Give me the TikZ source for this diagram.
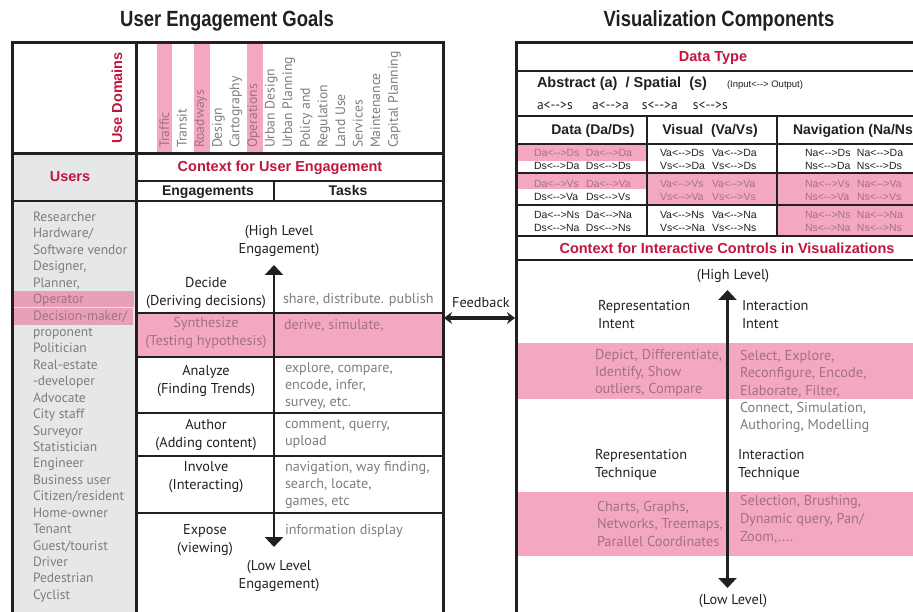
\documentclass[tikz,border=0pt]{standalone}
\usepackage{fontspec}
\setmainfont{PT Sans}
\newfontfamily\headfont{Liberation Sans}
\newfontfamily\titlefont[FakeStretch=0.84]{Liberation Sans}
\usetikzlibrary{arrows.meta}

\definecolor{accent}{RGB}{192,22,62}
\definecolor{softgray}{RGB}{125,125,128}
\definecolor{panelgray}{RGB}{230,231,232}
\definecolor{hilite}{RGB}{244,168,192}
\definecolor{hilitegray}{RGB}{232,160,184}
\definecolor{mauve}{RGB}{163,112,134}
\definecolor{ink}{RGB}{35,31,32}

% two-way mapping arrow, hyphens kept apart
\newcommand\lr{<\mbox{-}\mbox{-}>}
\newcommand\pair[2]{\makebox[52pt][l]{#1}#2}

\begin{document}
% multi-line nodes are anchored at the baseline of their last line
\begin{tikzpicture}[x=1pt,y=-1pt,
  every node/.style={inner sep=0pt, outer sep=0pt},
  frame/.style={line width=3pt, draw=ink},
  rule/.style={line width=2pt, draw=ink},
  band/.style={fill=hilite, draw=none},
  levelarrow/.style={line width=2.5pt, draw=ink, {Triangle[width=18pt,length=10pt]}-{Triangle[width=18pt,length=10pt]}},
  title/.style={font=\titlefont\bfseries\fontsize{22}{24}\selectfont, text=ink, anchor=base},
  redhead/.style={font=\headfont\bfseries\fontsize{14.5}{17}\selectfont, text=accent, anchor=base},
  colhead/.style={font=\headfont\bfseries\fontsize{14}{17}\selectfont, text=ink, anchor=base},
  body/.style={font=\fontsize{14.3}{18}\selectfont, text=ink, anchor=base, align=center},
  bodyleft/.style={font=\fontsize{14.3}{18}\selectfont, text=ink, anchor=base west, align=left},
  task/.style={font=\fontsize{14.2}{17}\selectfont, text=softgray, anchor=base west, align=left},
  domainlabel/.style={font=\fontsize{13.7}{15}\selectfont, text=softgray, rotate=90, anchor=base west},
  cell/.style={font=\headfont\fontsize{10.5}{13}\selectfont, text=ink, anchor=base west, align=left},
]
\useasboundingbox (0,0) rectangle (913,612);
\clip (0,0) rectangle (913,612);

% ---------------- titles ----------------
\node[title] (goalsTitle) at (227,27) {User Engagement Goals};
\node[title] (vizTitle) at (719,27) {Visualization Components};

% ---------------- left panel: fills ----------------
\fill[panelgray] (12,154) rectangle (136,640);
\fill[band] (157,44) rectangle (172,153);
\fill[band] (194,44) rectangle (210,153);
\fill[band] (247,44) rectangle (263,153);
\fill[hilitegray] (14,291) rectangle (134,307);
\fill[hilitegray] (12,308) rectangle (133,325);
\fill[band] (137,314) rectangle (442,357);

% ---------------- left panel: rules ----------------
\draw[frame] (12,43) rectangle (443,640);
\draw[frame] (136,43) -- (136,640);
\draw[frame] (12,154) -- (443,154);
\draw[rule] (12,201) -- (443,201);
\draw[rule] (136,181) -- (443,181);
\draw[rule] (274,181) -- (274,201);
\draw[rule] (136,313) -- (443,313);
\draw[rule] (136,357) -- (443,357);
\draw[rule] (136,413) -- (443,413);
\draw[rule] (136,456) -- (443,456);
\draw[rule] (136,513) -- (443,513);

\coordinate (engTop) at (274,265);
\coordinate (engBottom) at (274,547);
\draw[levelarrow] (engTop) -- (engBottom);

% ---------------- use domains ----------------
\node[font=\headfont\bfseries\fontsize{14.5}{17}\selectfont, text=accent, rotate=90] (useDomains) at (117,98) {Use Domains};
\node[domainlabel, text=mauve] (dTraffic) at (169,148) {Traffic};
\node[domainlabel] (dTransit) at (186.6,148) {Transit};
\node[domainlabel, text=mauve] (dRoadways) at (204.2,148) {Roadways};
\node[domainlabel] (dDesign) at (221.8,148) {Design};
\node[domainlabel] (dCarto) at (239.4,148) {Cartography};
\node[domainlabel, text=mauve] (dOps) at (257,148) {Operations};
\node[domainlabel] (dUrbanDesign) at (274.6,148) {Urban Design};
\node[domainlabel] (dUrbanPlan) at (292.2,148) {Urban Planning};
\node[domainlabel] (dPolicy) at (309.8,148) {Policy and};
\node[domainlabel] (dRegulation) at (327.4,148) {Regulation};
\node[domainlabel] (dLandUse) at (345,148) {Land Use};
\node[domainlabel] (dServices) at (362.6,148) {Services};
\node[domainlabel] (dMaint) at (380.2,148) {Maintenance};
\node[domainlabel] (dCapital) at (397.8,148) {Capital Planning};

% ---------------- users ----------------
\node[redhead] (usersHead) at (70,182) {Users};
\node[font=\fontsize{13.5}{16.43}\selectfont, text=softgray, anchor=base west, align=left] (userList) at (33,599.4)
  {Researcher\\Hardware/\\Software vendor\\Designer,\\Planner,\\{\color{mauve}Operator}\\{\color{mauve}Decision-maker/}\\proponent\\Politician\\Real-estate\\-developer\\Advocate\\City staff\\Surveyor\\Statistician\\Engineer\\Business user\\Citizen/resident\\Home-owner\\Tenant\\Guest/tourist\\Driver\\Pedestrian\\Cyclist};

% ---------------- engagements ----------------
\node[redhead] (ctxUser) at (280,172) {Context for User Engagement};
\node[colhead] (engHead) at (208,196) {Engagements};
\node[colhead] (taskHead) at (348,196) {Tasks};

\node[body] (highEng) at (279,253.5) {(High Level\\Engagement)};
\node[body] (decide) at (206,305.5) {Decide\\(Deriving decisions)};
\node[body, text=mauve] (synth) at (206,345.5) {Synthesize\\(Testing hypothesis)};
\node[body] (analyze) at (206,393.5) {Analyze\\(Finding Trends)};
\node[body] (author) at (206,447.5) {Author\\(Adding content)};
\node[body] (involve) at (206,489.5) {Involve\\(Interacting)};
\node[body] (expose) at (205,552.5) {Expose\\(viewing)};
\node[body] (lowEng) at (279,588.5) {(Low Level\\Engagement)};

\node[task] (tDecide) at (283,303.5) {share, distribute. publish};
\node[task, text=mauve] (tSynth) at (284,329.5) {derive, simulate,};
\node[task] (tAnalyze) at (285,406.5) {explore, compare,\\encode, infer,\\survey, etc.};
\node[task] (tAuthor) at (285,445.5) {comment, querry,\\upload};
\node[task] (tInvolve) at (285,505.5) {navigation, way finding,\\search, locate,\\games, etc};
\node[task] (tExpose) at (285,534.5) {information display};

% ---------------- feedback ----------------
\node[font=\fontsize{14.3}{16}\selectfont, text=ink, anchor=base] (feedback) at (481,307.5) {Feedback};
\coordinate (fbLeft) at (444,318);
\coordinate (fbRight) at (515,318);
\draw[line width=3.5pt, draw=ink, {Stealth[length=8pt,width=12pt]}-{Stealth[length=8pt,width=12pt]}] (fbLeft) -- (fbRight);

% ---------------- right panel: fills ----------------
\fill[band] (517,145) rectangle (647,161);
\fill[band] (517,174) rectangle (647,189);
\fill[band] (648,174) rectangle (777,204);
\fill[band] (778,174) rectangle (930,204);
\fill[band] (778,206) rectangle (930,235);
\fill[band] (517,343) rectangle (930,399);
\fill[band] (517,492) rectangle (930,556);

% ---------------- right panel: rules ----------------
\draw[frame] (516,43) rectangle (940,640);
\draw[rule] (516,71) -- (940,71);
\draw[rule] (516,116) -- (940,116);
\draw[rule] (516,144) -- (940,144);
\draw[rule] (516,173) -- (940,173);
\draw[rule] (516,205) -- (940,205);
\draw[rule] (516,236) -- (940,236);
\draw[rule] (516,260) -- (940,260);
\draw[rule] (647,116) -- (647,236);
\draw[rule] (777,116) -- (777,236);

% ---------------- data type table ----------------
\node[redhead] (dataType) at (713,62) {Data Type};
\node[colhead, anchor=base west, font=\headfont\bfseries\fontsize{14.5}{17}\selectfont] (abstract) at (537,88) {Abstract (a)\ \ / Spatial\ \ (s)};
\node[font=\headfont\fontsize{9.5}{11}\selectfont, text=ink, anchor=base west] (inout) at (727,87.5) {(Input\lr{} Output)};
\node[font=\fontsize{13.5}{15}\selectfont, text=ink, anchor=base west] (mapRow) at (537,110)
  {\makebox[55pt][l]{a\lr s}\makebox[50pt][l]{a\lr a}\makebox[51pt][l]{s\lr a}s\lr s};

\node[colhead] (dataHead) at (593,135) {Data (Da/Ds)};
\node[colhead] (visualHead) at (710,135) {Visual\ \ (Va/Vs)};
\node[colhead, anchor=base west] (navHead) at (793,135) {Navigation (Na/Ns)};

\node[cell] (c11) at (534,170) {{\color{mauve}\pair{Da\lr Ds}{Da\lr Da}}\\\pair{Ds\lr Da}{Ds\lr Ds}};
\node[cell] (c12) at (660,170) {\pair{Va\lr Ds}{Va\lr Da}\\\pair{Vs\lr Da}{Vs\lr Ds}};
\node[cell] (c13) at (805,170) {\pair{Na\lr Ds}{Na\lr Da}\\\pair{Ns\lr Da}{Ns\lr Ds}};
\node[cell] (c21) at (534,201) {{\color{mauve}\pair{Da\lr Vs}{Da\lr Va}}\\\pair{Ds\lr Va}{Ds\lr Vs}};
\node[cell, text=mauve] (c22) at (660,201) {\pair{Va\lr Vs}{Va\lr Va}\\\pair{Vs\lr Va}{Vs\lr Vs}};
\node[cell, text=mauve] (c23) at (805,201) {\pair{Na\lr Vs}{Na\lr Va}\\\pair{Ns\lr Va}{Ns\lr Vs}};
\node[cell] (c31) at (534,232) {\pair{Da\lr Ns}{Da\lr Na}\\\pair{Ds\lr Na}{Ds\lr Ns}};
\node[cell] (c32) at (660,232) {\pair{Va\lr Ns}{Va\lr Na}\\\pair{Vs\lr Na}{Vs\lr Ns}};
\node[cell, text=mauve] (c33) at (805,232) {\pair{Na\lr Ns}{Na\lr Na}\\\pair{Ns\lr Na}{Ns\lr Ns}};

% ---------------- interactive controls ----------------
\node[redhead] (ctxViz) at (727,254) {Context for Interactive Controls in Visualizations};

\coordinate (vizTop) at (727.5,290);
\coordinate (vizBottom) at (727.5,588);
\draw[levelarrow] (vizTop) -- (vizBottom);

\node[body] (highLevel) at (733,279.5) {(High Level)};
\node[body] (lowLevel) at (733,604.5) {(Low Level)};
\node[bodyleft] (repIntent) at (598,328.5) {Representation\\Intent};
\node[bodyleft] (intIntent) at (742,328.5) {Interaction\\Intent};
\node[bodyleft, text=mauve, font=\fontsize{14.3}{17}\selectfont] (repIntentList) at (595,393.5) {Depict, Differentiate,\\Identify, Show\\outliers, Compare};
\node[bodyleft, font=\fontsize{14.3}{17.3}\selectfont, text=softgray] (intIntentList) at (740,429.7)
  {{\color{mauve}Select, Explore,}\\{\color{mauve}Reconfigure, Encode,}\\{\color{mauve}Elaborate, Filter,}\\Connect, Simulation,\\Authoring, Modelling};
\node[bodyleft] (repTech) at (595,477.5) {Representation\\Technique};
\node[bodyleft] (intTech) at (738,477.5) {Interaction\\Technique};
\node[bodyleft, text=mauve, font=\fontsize{14.3}{17.5}\selectfont] (repTechList) at (597,546) {Charts, Graphs,\\Networks, Treemaps,\\Parallel Coordinates};
\node[bodyleft, text=mauve, font=\fontsize{14.3}{17.8}\selectfont] (intTechList) at (740,541.1) {Selection, Brushing,\\Dynamic query, Pan/\\Zoom,....};
\end{tikzpicture}
\end{document}
